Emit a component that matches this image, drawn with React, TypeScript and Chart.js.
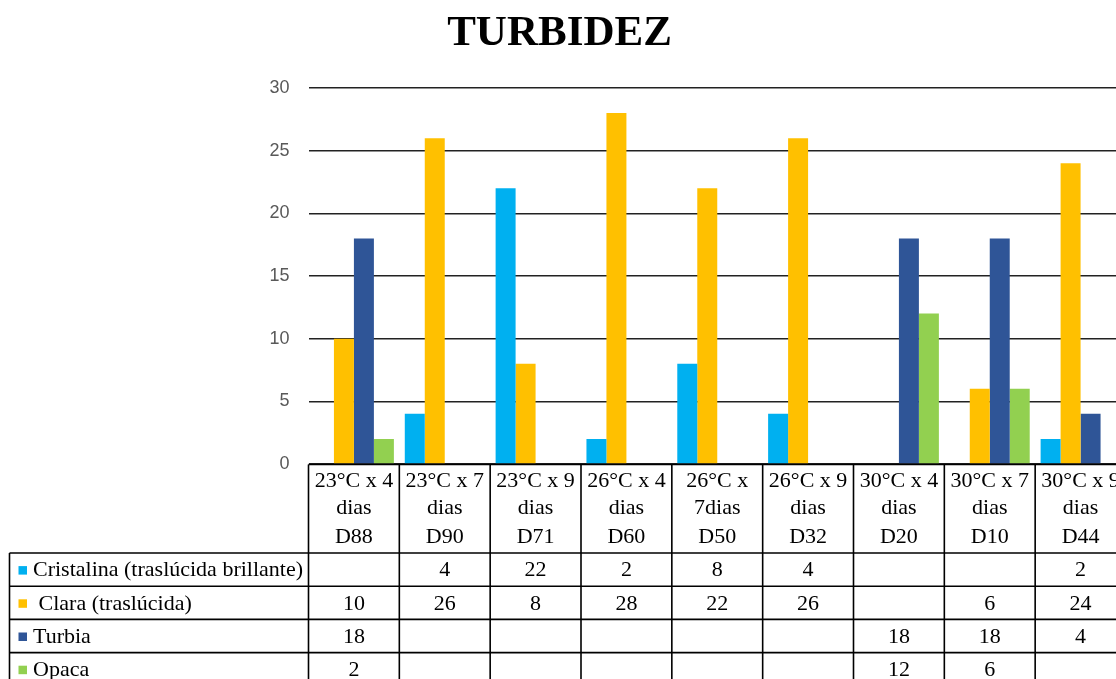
import React, { useEffect, useRef } from "react";
import { Chart, registerables } from "chart.js";

Chart.register(...registerables);

const titleText = "TURBIDEZ";
const catLine1 = ["23°C x 4", "23°C x 7", "23°C x 9", "26°C x 4", "26°C x", "26°C x 9", "30°C x 4", "30°C x 7", "30°C x 9"];
const catLine2 = ["dias", "dias", "dias", "dias", "7dias", "dias", "dias", "dias", "dias"];
const catCodes = ["D88", "D90", "D71", "D60", "D50", "D32", "D20", "D10", "D44"];

const seriesNames = ["Cristalina (traslúcida brillante)", " Clara (traslúcida)", "Turbia", "Opaca"];
const seriesColors = ["#00B0F0", "#FFC000", "#2F5597", "#92D050"];
const cristalina = [null, 4, 22, 2, 8, 4, null, null, 2];
const clara = [10, 26, 8, 28, 22, 26, null, 6, 24];
const turbia = [18, null, null, null, null, null, 18, 18, 4];
const opaca = [2, null, null, null, null, null, 12, 6, null];

const yMin = 0;
const yMax = 30;
const yStep = 5;

const SERIF = "'Liberation Serif', 'Times New Roman', serif";

const tablePlugin = {
  id: "dataTable",
  afterDraw(chart: any) {
    const { ctx, chartArea, scales } = chart;
    const x = scales.x;
    const labels = chart.data.labels as string[][];
    const n = labels.length;
    const cw = (chartArea.right - chartArea.left) / n;
    const top = chartArea.bottom + 0.5;
    const headerBottom = top + 88.5;
    const rowH = 33.2;
    const tableLeft = 9.5;
    const datasets = chart.data.datasets;
    const bottom = headerBottom + rowH * datasets.length;

    ctx.save();
    // title
    ctx.fillStyle = "#000";
    ctx.font = `bold 43px ${SERIF}`;
    ctx.textAlign = "center";
    ctx.textBaseline = "middle";
    ctx.fillText(titleText, 559.5, 34);

    ctx.strokeStyle = "#000";
    ctx.lineWidth = 1.6;
    ctx.beginPath();
    ctx.moveTo(chartArea.left, top);
    ctx.lineTo(chartArea.right + 20, top);
    for (let i = 0; i <= n; i++) {
      const xx = chartArea.left + i * cw;
      ctx.moveTo(xx, top);
      ctx.lineTo(xx, bottom);
    }
    ctx.moveTo(tableLeft, headerBottom);
    ctx.lineTo(tableLeft, bottom);
    for (let k = 0; k <= datasets.length; k++) {
      const yy = headerBottom + k * rowH;
      ctx.moveTo(tableLeft, yy);
      ctx.lineTo(chartArea.right + 20, yy);
    }
    ctx.stroke();

    // header labels
    ctx.font = `22px ${SERIF}`;
    ctx.fillStyle = "#000";
    ctx.textAlign = "center";
    ctx.textBaseline = "middle";
    const lineYs = [top + 17, top + 44, top + 73];
    labels.forEach((lab, i) => {
      const cx = x.getPixelForValue(i);
      lab.forEach((t, j) => ctx.fillText(t, cx, lineYs[j]));
    });

    // rows
    datasets.forEach((ds: any, k: number) => {
      const cy = headerBottom + k * rowH + rowH / 2 + 1;
      ctx.fillStyle = ds.backgroundColor;
      ctx.fillRect(tableLeft + 9, cy - 4.5, 8.5, 8.5);
      ctx.fillStyle = "#000";
      ctx.textAlign = "left";
      ctx.font = `22px ${SERIF}`;
      ctx.fillText(ds.label, tableLeft + 23.5, cy);
      ctx.textAlign = "center";
      ds.data.forEach((v: any, i: number) => {
        if (v === null || v === undefined) return;
        ctx.fillText(String(v), x.getPixelForValue(i), cy);
      });
    });
    ctx.restore();
  },
};

export default function App() {
  const ref = useRef<HTMLCanvasElement>(null);
  useEffect(() => {
    if (!ref.current) return;
    const labels = catLine1.map((l, i) => [l, catLine2[i], catCodes[i]]);
    const allData = [cristalina, clara, turbia, opaca];
    const chart = new Chart(ref.current, {
      type: "bar",
      data: {
        labels,
        datasets: allData.map((d, i) => ({
          label: seriesNames[i],
          data: d as any,
          backgroundColor: seriesColors[i],
          borderWidth: 0,
          categoryPercentage: 0.88,
          barPercentage: 1.0,
        })),
      },
      options: {
        animation: false,
        responsive: false,
        devicePixelRatio: 1,
        layout: { padding: { top: 88, bottom: 679 - 464, left: 0, right: 0 } },
        plugins: {
          legend: { display: false },
          title: { display: false },
          tooltip: { enabled: false },
        },
        scales: {
          x: {
            display: false,
          },
          y: {
            min: yMin,
            max: yMax,
            ticks: {
              stepSize: yStep,
              padding: 19,
              color: "#595959",
              font: { family: "'Liberation Sans', Arial, sans-serif", size: 18 },
            },
            grid: { color: "#222", lineWidth: 1.5, drawTicks: false },
            border: { display: false },
            afterFit(scale: any) {
              scale.width = 308.5;
            },
          },
        },
      },
      plugins: [tablePlugin],
    });
    return () => chart.destroy();
  }, []);
  return (
    <div style={{ position: "fixed", left: 0, top: 0, width: 1116, height: 679, overflow: "hidden", background: "#fff" }}>
      <canvas ref={ref} width={1126} height={679} style={{ width: 1126, height: 679, display: "block" }} />
    </div>
  );
}
